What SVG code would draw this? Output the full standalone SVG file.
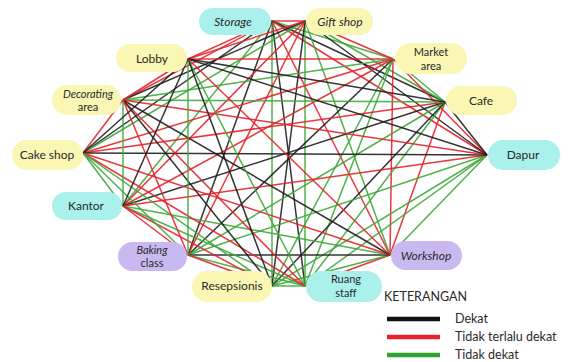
<svg xmlns="http://www.w3.org/2000/svg" width="582" height="362" viewBox="0 0 582 362">
<style>
.k{stroke:#1e1e1e}.r{stroke:#e4222a}.g{stroke:#3da83a}
#edges line{stroke-width:1.5;stroke-opacity:0.9}
.y{fill:#faf6b4}.c{fill:#aaf1ec}.p{fill:#c8b9f1}
text{font-family:Lato,"Open Sans",sans-serif;font-size:12px;fill:#2a2a2a;text-anchor:middle}
.i{font-style:italic}
.s{font-size:11px}
.lg{font-size:12.5px;text-anchor:start}
</style>
<rect width="582" height="362" fill="#fff"/>
<g id="edges">
<line x1="272" y1="21" x2="305" y2="21" class="r"/>
<line x1="272" y1="21" x2="393" y2="59" class="g"/>
<line x1="272" y1="21" x2="445" y2="102" class="k"/>
<line x1="272" y1="21" x2="487" y2="155" class="r"/>
<line x1="272" y1="21" x2="390" y2="255" class="r"/>
<line x1="272" y1="21" x2="305" y2="286" class="k"/>
<line x1="272" y1="21" x2="272" y2="286" class="g"/>
<line x1="272" y1="21" x2="188" y2="255" class="k"/>
<line x1="272" y1="21" x2="123" y2="206" class="g"/>
<line x1="272" y1="21" x2="83" y2="153" class="k"/>
<line x1="272" y1="21" x2="123" y2="100" class="r"/>
<line x1="272" y1="21" x2="188" y2="59" class="r"/>
<line x1="305" y1="21" x2="393" y2="59" class="r"/>
<line x1="305" y1="21" x2="445" y2="102" class="g"/>
<line x1="305" y1="21" x2="487" y2="155" class="k"/>
<line x1="305" y1="21" x2="390" y2="255" class="g"/>
<line x1="305" y1="21" x2="305" y2="286" class="g"/>
<line x1="305" y1="21" x2="272" y2="286" class="k"/>
<line x1="305" y1="21" x2="188" y2="255" class="r"/>
<line x1="305" y1="21" x2="123" y2="206" class="r"/>
<line x1="305" y1="21" x2="83" y2="153" class="g"/>
<line x1="305" y1="21" x2="123" y2="100" class="k"/>
<line x1="305" y1="21" x2="188" y2="59" class="r"/>
<line x1="393" y1="59" x2="445" y2="102" class="g"/>
<line x1="393" y1="59" x2="487" y2="155" class="r"/>
<line x1="393" y1="59" x2="390" y2="255" class="r"/>
<line x1="393" y1="59" x2="305" y2="286" class="g"/>
<line x1="393" y1="59" x2="272" y2="286" class="g"/>
<line x1="393" y1="59" x2="188" y2="255" class="k"/>
<line x1="393" y1="59" x2="123" y2="206" class="r"/>
<line x1="393" y1="59" x2="83" y2="153" class="r"/>
<line x1="393" y1="59" x2="123" y2="100" class="g"/>
<line x1="393" y1="59" x2="188" y2="59" class="r"/>
<line x1="445" y1="102" x2="487" y2="155" class="k"/>
<line x1="445" y1="102" x2="390" y2="255" class="r"/>
<line x1="445" y1="102" x2="305" y2="286" class="g"/>
<line x1="445" y1="102" x2="272" y2="286" class="k"/>
<line x1="445" y1="102" x2="188" y2="255" class="g"/>
<line x1="445" y1="102" x2="123" y2="206" class="k"/>
<line x1="445" y1="102" x2="83" y2="153" class="r"/>
<line x1="445" y1="102" x2="123" y2="100" class="g"/>
<line x1="445" y1="102" x2="188" y2="59" class="k"/>
<line x1="487" y1="155" x2="390" y2="255" class="g"/>
<line x1="487" y1="155" x2="305" y2="286" class="g"/>
<line x1="487" y1="155" x2="272" y2="286" class="g"/>
<line x1="487" y1="155" x2="188" y2="255" class="g"/>
<line x1="487" y1="155" x2="123" y2="206" class="r"/>
<line x1="487" y1="155" x2="83" y2="153" class="k"/>
<line x1="487" y1="155" x2="123" y2="100" class="r"/>
<line x1="487" y1="155" x2="188" y2="59" class="k"/>
<line x1="390" y1="255" x2="305" y2="286" class="r"/>
<line x1="390" y1="255" x2="272" y2="286" class="g"/>
<line x1="390" y1="255" x2="188" y2="255" class="k"/>
<line x1="390" y1="255" x2="123" y2="206" class="g"/>
<line x1="390" y1="255" x2="83" y2="153" class="r"/>
<line x1="390" y1="255" x2="123" y2="100" class="k"/>
<line x1="390" y1="255" x2="188" y2="59" class="r"/>
<line x1="305" y1="286" x2="272" y2="286" class="g"/>
<line x1="305" y1="286" x2="188" y2="255" class="g"/>
<line x1="305" y1="286" x2="123" y2="206" class="g"/>
<line x1="305" y1="286" x2="83" y2="153" class="r"/>
<line x1="305" y1="286" x2="123" y2="100" class="r"/>
<line x1="305" y1="286" x2="188" y2="59" class="g"/>
<line x1="272" y1="286" x2="188" y2="255" class="r"/>
<line x1="272" y1="286" x2="123" y2="206" class="r"/>
<line x1="272" y1="286" x2="83" y2="153" class="g"/>
<line x1="272" y1="286" x2="123" y2="100" class="k"/>
<line x1="272" y1="286" x2="188" y2="59" class="k"/>
<line x1="188" y1="255" x2="123" y2="206" class="r"/>
<line x1="188" y1="255" x2="83" y2="153" class="g"/>
<line x1="188" y1="255" x2="123" y2="100" class="r"/>
<line x1="188" y1="255" x2="188" y2="59" class="g"/>
<line x1="123" y1="206" x2="83" y2="153" class="g"/>
<line x1="123" y1="206" x2="123" y2="100" class="g"/>
<line x1="123" y1="206" x2="188" y2="59" class="k"/>
<line x1="83" y1="153" x2="123" y2="100" class="r"/>
<line x1="83" y1="153" x2="188" y2="59" class="k"/>
<line x1="123" y1="100" x2="188" y2="59" class="r"/>
</g>
<g id="storage"><rect x="199" y="8" width="72" height="27" rx="13.5" class="c"/><text x="233" y="26" class="i">Storage</text></g>
<g id="giftshop"><rect x="306" y="8" width="67" height="27" rx="13.5" class="y"/><text x="340" y="26" class="i">Gift shop</text></g>
<g id="lobby"><rect x="116" y="44" width="71" height="28" rx="14" class="y"/><text x="152" y="63">Lobby</text></g>
<g id="decorating"><rect x="52" y="85" width="69" height="30" rx="15" class="y"/><text x="88" y="98" class="i s">Decorating</text><text x="88" y="111" class="s">area</text></g>
<g id="market"><rect x="395" y="43" width="72" height="31" rx="15.5" class="y"/><text x="431" y="56" class="s">Market</text><text x="431" y="70" class="s">area</text></g>
<g id="cafe"><rect x="446" y="86" width="71" height="29" rx="14.5" class="y"/><text x="481" y="105">Cafe</text></g>
<g id="cakeshop"><rect x="12" y="140" width="71" height="30" rx="15" class="y"/><text x="47" y="159">Cake shop</text></g>
<g id="dapur"><rect x="488" y="140" width="72" height="30" rx="15" class="c"/><text x="523" y="159">Dapur</text></g>
<g id="kantor"><rect x="52" y="192" width="70" height="28" rx="14" class="c"/><text x="86" y="210">Kantor</text></g>
<g id="baking"><rect x="118" y="242" width="69" height="29" rx="14.5" class="p"/><text x="152" y="254" class="i s">Baking</text><text x="152" y="267" class="s">class</text></g>
<g id="resepsionis"><rect x="192" y="271" width="80" height="31" rx="15.5" class="y"/><text x="232" y="290">Resepsionis</text></g>
<g id="ruangstaff"><rect x="306" y="271" width="76" height="31" rx="15.5" class="c"/><text x="346" y="283" class="s">Ruang</text><text x="346" y="297" class="s">staff</text></g>
<g id="workshop"><rect x="391" y="241" width="71" height="29" rx="14.5" class="p"/><text x="426" y="260" class="i">Workshop</text></g>
<g id="legend">
<text x="384" y="301" class="lg">KETERANGAN</text>
<line x1="387" y1="319" x2="440" y2="319" stroke="#111" stroke-width="4.5"/>
<line x1="387" y1="337" x2="440" y2="337" stroke="#e8202a" stroke-width="4.5"/>
<line x1="387" y1="355" x2="440" y2="355" stroke="#2fa32b" stroke-width="4.5"/>
<text x="455" y="323" class="lg">Dekat</text>
<text x="455" y="341" class="lg">Tidak terlalu dekat</text>
<text x="455" y="359" class="lg">Tidak dekat</text>
</g>
</svg>
